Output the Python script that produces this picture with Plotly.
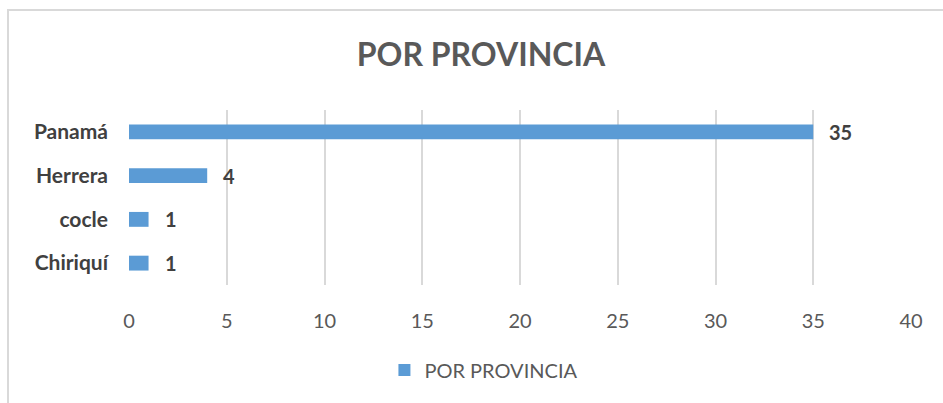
import plotly.graph_objects as go

categories = ["Chiriquí", "cocle", "Herrera", "Panamá"]
values = [1, 1, 4, 35]
series_name = "POR PROVINCIA"
x_ticks = [0, 5, 10, 15, 20, 25, 30, 35, 40]

W, H = 943, 403
ml, mr, mt, mb = 129, 32, 110, 118
PW, PH = W - ml - mr, H - mt - mb

FONT = "Lato, sans-serif"

fig = go.Figure()
fig.add_trace(go.Bar(
    y=categories, x=values, orientation="h", name=series_name,
    marker=dict(color="#5B9BD5", line=dict(width=0)),
    showlegend=True,
))

for c, v in zip(categories, values):
    fig.add_annotation(x=v, y=c, xref="x", yref="y", text=f"<b>{v}</b>",
                       showarrow=False, xanchor="left", xshift=14,
                       font=dict(family=FONT, size=20, color="#404040"))

fig.add_shape(type="rect", xref="paper", yref="paper",
              x0=(8 - ml) / PW, x1=(980 - ml) / PW,
              y0=-(440 - (H - mb)) / PH, y1=(H - mb - 10) / PH,
              line=dict(color="#D9D9D9", width=2), layer="below")

fig.update_layout(
    width=W, height=H,
    margin=dict(l=ml, r=mr, t=mt, b=mb),
    paper_bgcolor="white", plot_bgcolor="white",
    bargap=0.66,
    title=dict(text="<b>POR PROVINCIA</b>", x=481 / W, xanchor="center",
               y=1 - 55 / H, yanchor="middle",
               font=dict(family=FONT, size=32, color="#595959")),
    xaxis=dict(range=[0, 40], tickvals=x_ticks, showgrid=True, gridcolor="#D9D9D9",
               gridwidth=1.5, zeroline=False, showline=False, ticks="",
               tickfont=dict(family=FONT, size=20, color="#595959"),
               ticklabelstandoff=22),
    yaxis=dict(range=[-0.5, 3.5], showgrid=False, zeroline=False, showline=False, ticks="",
               tickfont=dict(family=FONT, size=21, color="#404040", weight="bold"),
               ticklabelstandoff=20),
    legend=dict(orientation="h", x=428 / W, xanchor="center", xref="paper",
                y=-(370 - (H - mb)) / PH, yanchor="middle",
                font=dict(family=FONT, size=20, color="#595959"),
                itemwidth=30),
)
fig.write_html("out.html", config={"displayModeBar": False},
               post_script="document.body.style.margin='0';")
